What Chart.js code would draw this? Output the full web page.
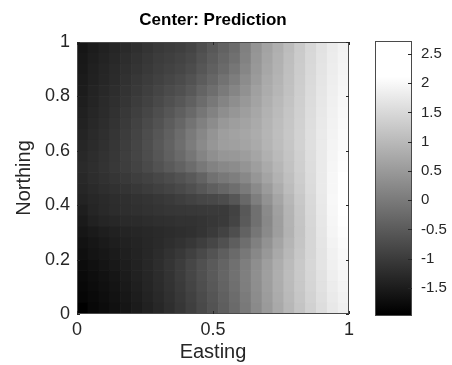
<!DOCTYPE html>
<html>
<head>
<meta charset="utf-8">
<title>Center: Prediction</title>
<script src="https://cdn.jsdelivr.net/npm/chart.js@4.4.1/dist/chart.umd.min.js"></script>
<style>
  html, body { margin: 0; padding: 0; background: #fff; overflow: hidden; }
  #wrap { position: relative; width: 452px; height: 365px; }
  #field { position: absolute; left: 0; top: 0; }
  #ramp { position: absolute; left: 360px; top: 0; }
</style>
</head>
<body>
<div id="wrap">
  <canvas id="field" width="452" height="365"></canvas>
  <canvas id="ramp" width="92" height="365"></canvas>
</div>
<script>
// Cell centres of the 25 x 25 prediction grid on the unit square
const easting  = [0.02, 0.06, 0.10, 0.14, 0.18, 0.22, 0.26, 0.30, 0.34, 0.38, 0.42, 0.46, 0.50,
                  0.54, 0.58, 0.62, 0.66, 0.70, 0.74, 0.78, 0.82, 0.86, 0.90, 0.94, 0.98];
const northing = [0.98, 0.94, 0.90, 0.86, 0.82, 0.78, 0.74, 0.70, 0.66, 0.62, 0.58, 0.54, 0.50,
                  0.46, 0.42, 0.38, 0.34, 0.30, 0.26, 0.22, 0.18, 0.14, 0.10, 0.06, 0.02];

// Predicted values, one row per northing (north to south), west to east
const pred98 = [-1.59,-1.49,-1.41,-1.33,-1.27,-1.19,-1.11,-1.03,-0.98,-0.94,-0.86,-0.70,-0.54,-0.38,-0.22,0.10,0.41,0.65,0.84,1.05,1.27,1.48,1.65,1.79,1.90];
const pred94 = [-1.56,-1.46,-1.38,-1.30,-1.22,-1.14,-1.06,-0.98,-0.94,-0.87,-0.79,-0.63,-0.48,-0.32,-0.16,0.13,0.44,0.68,0.87,1.08,1.29,1.49,1.67,1.81,1.92];
const pred90 = [-1.54,-1.43,-1.35,-1.27,-1.19,-1.11,-1.03,-0.95,-0.89,-0.83,-0.73,-0.57,-0.41,-0.25,-0.06,0.19,0.48,0.71,0.89,1.10,1.30,1.51,1.68,1.83,1.94];
const pred86 = [-1.51,-1.41,-1.33,-1.25,-1.16,-1.06,-0.98,-0.90,-0.83,-0.75,-0.63,-0.48,-0.32,-0.13,0.05,0.29,0.52,0.76,0.92,1.11,1.32,1.52,1.70,1.84,1.95];
const pred82 = [-1.49,-1.38,-1.30,-1.22,-1.13,-1.03,-0.94,-0.84,-0.75,-0.67,-0.54,-0.35,-0.19,0.00,0.17,0.37,0.60,0.79,0.95,1.13,1.33,1.54,1.71,1.86,1.97];
const pred78 = [-1.46,-1.37,-1.27,-1.19,-1.10,-0.98,-0.89,-0.78,-0.67,-0.56,-0.41,-0.22,-0.03,0.16,0.32,0.48,0.65,0.84,1.00,1.16,1.35,1.56,1.73,1.87,1.98];
const pred74 = [-1.43,-1.33,-1.25,-1.16,-1.05,-0.94,-0.83,-0.70,-0.57,-0.43,-0.27,-0.06,0.13,0.32,0.44,0.57,0.71,0.89,1.03,1.19,1.37,1.57,1.75,1.89,2.00];
const pred70 = [-1.40,-1.30,-1.22,-1.13,-1.02,-0.89,-0.76,-0.63,-0.48,-0.32,-0.11,0.10,0.29,0.48,0.57,0.65,0.76,0.92,1.06,1.21,1.38,1.59,1.76,1.90,2.02];
const pred66 = [-1.37,-1.27,-1.19,-1.10,-0.98,-0.86,-0.71,-0.57,-0.41,-0.22,0.00,0.21,0.41,0.57,0.63,0.70,0.79,0.94,1.08,1.22,1.40,1.60,1.78,1.92,2.03];
const pred62 = [-1.33,-1.25,-1.17,-1.08,-0.97,-0.84,-0.70,-0.54,-0.38,-0.19,0.03,0.25,0.44,0.57,0.60,0.67,0.76,0.92,1.06,1.21,1.40,1.60,1.78,1.94,2.03];
const pred58 = [-1.30,-1.22,-1.14,-1.06,-0.95,-0.84,-0.71,-0.57,-0.41,-0.25,-0.06,0.16,0.33,0.44,0.48,0.56,0.68,0.86,1.02,1.17,1.37,1.59,1.78,1.95,2.06];
const pred54 = [-1.27,-1.21,-1.13,-1.05,-0.97,-0.87,-0.76,-0.63,-0.51,-0.38,-0.22,-0.03,0.13,0.22,0.29,0.41,0.57,0.76,0.95,1.14,1.35,1.57,1.78,1.97,2.08];
const pred50 = [-1.30,-1.22,-1.16,-1.10,-1.03,-0.95,-0.89,-0.81,-0.73,-0.64,-0.52,-0.37,-0.14,-0.03,0.06,0.22,0.44,0.67,0.89,1.10,1.32,1.56,1.78,1.98,2.25];
const pred46 = [-1.33,-1.27,-1.21,-1.16,-1.11,-1.05,-0.98,-0.92,-0.86,-0.78,-0.68,-0.56,-0.43,-0.32,-0.19,0.00,0.25,0.52,0.79,1.05,1.29,1.54,1.78,1.98,2.45];
const pred42 = [-1.38,-1.32,-1.27,-1.22,-1.19,-1.14,-1.11,-1.06,-1.02,-0.95,-0.89,-0.83,-0.79,-0.73,-0.57,-0.29,0.06,0.38,0.68,0.97,1.24,1.51,1.76,2.00,2.72];
const pred38 = [-1.46,-1.35,-1.29,-1.24,-1.21,-1.18,-1.15,-1.11,-1.08,-1.06,-1.05,-1.04,-1.02,-1.02,-0.89,-0.54,-0.16,0.25,0.60,0.92,1.21,1.49,1.75,1.98,2.40];
const pred34 = [-1.52,-1.42,-1.36,-1.32,-1.28,-1.25,-1.22,-1.19,-1.17,-1.15,-1.14,-1.12,-1.07,-1.02,-0.86,-0.51,-0.16,0.22,0.57,0.90,1.19,1.48,1.73,1.97,2.10];
const pred30 = [-1.59,-1.52,-1.46,-1.41,-1.37,-1.33,-1.30,-1.27,-1.24,-1.21,-1.17,-1.11,-1.02,-0.89,-0.70,-0.38,-0.06,0.25,0.57,0.89,1.17,1.46,1.71,1.95,2.06];
const pred26 = [-1.65,-1.59,-1.52,-1.46,-1.41,-1.37,-1.32,-1.27,-1.21,-1.14,-1.06,-0.95,-0.83,-0.67,-0.44,-0.19,0.10,0.38,0.67,0.94,1.19,1.46,1.70,1.92,2.03];
const pred22 = [-1.70,-1.63,-1.57,-1.51,-1.44,-1.38,-1.32,-1.24,-1.14,-1.05,-0.92,-0.78,-0.62,-0.44,-0.25,-0.03,0.22,0.48,0.75,0.98,1.22,1.46,1.68,1.89,2.00];
const pred18 = [-1.75,-1.68,-1.62,-1.56,-1.48,-1.40,-1.32,-1.22,-1.11,-0.98,-0.83,-0.67,-0.51,-0.35,-0.16,0.06,0.32,0.57,0.81,1.03,1.25,1.48,1.68,1.87,1.98];
const pred14 = [-1.78,-1.71,-1.65,-1.59,-1.51,-1.41,-1.33,-1.24,-1.13,-0.98,-0.83,-0.67,-0.51,-0.33,-0.14,0.08,0.33,0.59,0.83,1.05,1.25,1.46,1.65,1.84,1.95];
const pred10 = [-1.81,-1.75,-1.68,-1.62,-1.54,-1.44,-1.35,-1.25,-1.14,-1.02,-0.86,-0.70,-0.54,-0.37,-0.17,0.06,0.32,0.57,0.81,1.03,1.24,1.44,1.63,1.81,1.92];
const pred06 = [-1.84,-1.78,-1.71,-1.65,-1.57,-1.48,-1.38,-1.29,-1.17,-1.05,-0.90,-0.75,-0.59,-0.41,-0.22,0.02,0.29,0.54,0.78,1.00,1.21,1.41,1.60,1.78,1.89];
const pred02 = [-1.98,-1.81,-1.75,-1.68,-1.60,-1.51,-1.41,-1.32,-1.21,-1.08,-0.94,-0.78,-0.62,-0.44,-0.25,-0.02,0.25,0.51,0.75,0.97,1.17,1.38,1.57,1.75,1.86];

const predictionRows = [pred98, pred94, pred90, pred86, pred82, pred78, pred74, pred70, pred66,
                        pred62, pred58, pred54, pred50, pred46, pred42, pred38, pred34, pred30,
                        pred26, pred22, pred18, pred14, pred10, pred06, pred02];

// Axis ticks
const eastTicks  = [0, 0.5, 1];
const northTicks = [0, 0.2, 0.4, 0.6, 0.8, 1];
const rampTicks  = [-1.5, -1, -0.5, 0, 0.5, 1, 1.5, 2, 2.5];

// Colour limits of the ramp (range of the predictions)
const colorLimits = [-1.98, 2.72];

// Gray ramp: black at grayLow, white at grayHigh, clipped outside
const grayLow = -1.94, grayHigh = 2.11;
const halfCell = 0.02;
const FONT = '"Liberation Sans", Arial, Helvetica, sans-serif';
const INK = '#262626';

function shade(v) {
  const t = Math.min(1, Math.max(0, (v - grayLow) / (grayHigh - grayLow)));
  const g = Math.round(t * 255);
  return 'rgb(' + g + ',' + g + ',' + g + ')';
}

const cells = [];
predictionRows.forEach((row, r) => {
  row.forEach((v, c) => {
    cells.push({ x: easting[c], y: [northing[r] - halfCell, northing[r] + halfCell], v: v });
  });
});

// Box around the plot area with short inward tick marks
function boxPlugin(len, sides) {
  return {
    id: 'axisBox',
    afterDatasetsDraw(chart) {
      const { ctx, chartArea: a } = chart;
      ctx.save();
      ctx.strokeStyle = '#4a4a4a';
      ctx.lineWidth = 1;
      ctx.strokeRect(a.left + 0.5, a.top + 0.5, a.right - a.left - 1, a.bottom - a.top - 1);
      ctx.strokeStyle = INK;
      ctx.beginPath();
      for (const id of Object.keys(chart.scales)) {
        const s = chart.scales[id];
        if (!s.options.display) continue;
        for (const t of s.ticks) {
          const p = Math.round(s.getPixelForValue(t.value)) + 0.5;
          if (s.isHorizontal()) {
            ctx.moveTo(p, a.bottom); ctx.lineTo(p, a.bottom - len);
            ctx.moveTo(p, a.top); ctx.lineTo(p, a.top + len);
          } else {
            if (sides.includes('left')) { ctx.moveTo(a.left, p); ctx.lineTo(a.left + len, p); }
            if (sides.includes('right')) { ctx.moveTo(a.right, p); ctx.lineTo(a.right - len, p); }
          }
        }
      }
      ctx.stroke();
      ctx.restore();
    }
  };
}

const fmt = v => String(Math.round(v * 100) / 100);

new Chart(document.getElementById('field'), {
  type: 'bar',
  data: {
    datasets: [{
      data: cells,
      backgroundColor: ctx => shade(ctx.raw ? ctx.raw.v : 0),
      borderWidth: 0,
      barPercentage: 1,
      categoryPercentage: 1,
      grouped: false
    }]
  },
  options: {
    responsive: false,
    animation: false,
    devicePixelRatio: 1,
    layout: { padding: { left: 0, right: 103, top: 0, bottom: 0 } },
    plugins: {
      legend: { display: false },
      tooltip: { enabled: false },
      title: {
        display: true,
        text: 'Center: Prediction',
        fullSize: false,
        color: '#000',
        font: { family: FONT, size: 17, weight: 'bold', lineHeight: 1.2 },
        padding: { top: 10, bottom: 11.6 }
      }
    },
    scales: {
      x: {
        type: 'linear', min: 0, max: 1, offset: false,
        grid: { display: false, drawTicks: false, offset: false },
        border: { display: false },
        afterBuildTicks: s => { s.ticks = eastTicks.map(v => ({ value: v })); },
        afterFit: s => { s.height = 51; },
        ticks: { padding: 5, color: INK, font: { family: FONT, size: 18 }, maxRotation: 0, autoSkip: false, callback: fmt },
        title: { display: true, text: 'Easting', color: INK, font: { family: FONT, size: 20, lineHeight: 1.2 }, padding: { top: 0, bottom: 1 } }
      },
      y: {
        type: 'linear', min: 0, max: 1,
        grid: { display: false, drawTicks: false },
        border: { display: false },
        afterBuildTicks: s => { s.ticks = northTicks.map(v => ({ value: v })); },
        afterFit: s => { s.width = 77; },
        ticks: { padding: 7, color: INK, font: { family: FONT, size: 18 }, autoSkip: false, callback: fmt },
        title: { display: true, text: 'Northing', color: INK, font: { family: FONT, size: 20, lineHeight: 1.2 }, padding: { top: 12, bottom: 0 } }
      }
    }
  },
  plugins: [boxPlugin(3, ['left', 'right'])]
});

// Colour ramp legend
function rampFill(chart) {
  const a = chart.chartArea;
  if (!a) return '#888';
  const y = chart.scales.y;
  const g = chart.ctx.createLinearGradient(0, y.getPixelForValue(grayLow), 0, y.getPixelForValue(grayHigh));
  g.addColorStop(0, '#000');
  g.addColorStop(1, '#fff');
  return g;
}

new Chart(document.getElementById('ramp'), {
  type: 'bar',
  data: {
    labels: [''],
    datasets: [{
      data: [colorLimits],
      backgroundColor: ctx => rampFill(ctx.chart),
      borderWidth: 0,
      barPercentage: 1,
      categoryPercentage: 1
    }]
  },
  options: {
    responsive: false,
    animation: false,
    devicePixelRatio: 1,
    layout: { padding: { left: 15, right: 0, top: 41, bottom: 49 } },
    plugins: { legend: { display: false }, tooltip: { enabled: false } },
    scales: {
      x: { display: false },
      y: {
        position: 'right', min: colorLimits[0], max: colorLimits[1],
        grid: { display: false, drawTicks: false },
        border: { display: false },
        afterBuildTicks: s => { s.ticks = rampTicks.map(v => ({ value: v })); },
        afterFit: s => { s.width = 40; },
        ticks: { padding: 9, color: INK, font: { family: FONT, size: 15 }, autoSkip: false, callback: fmt }
      }
    }
  },
  plugins: [boxPlugin(4, ['right'])]
});
</script>
</body>
</html>
